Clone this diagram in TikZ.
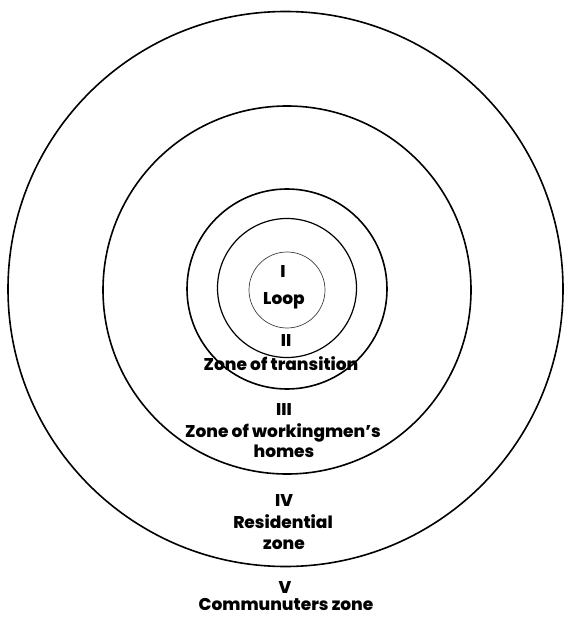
\documentclass[tikz,border=0pt]{standalone}
\usepackage{fontspec}
\setmainfont{Poppins}[BoldFont={Poppins ExtraBold}]

\begin{document}
\begin{tikzpicture}[
	x=1pt, y=-1pt,
	ring/.style      = {draw=black, line width=1.6pt},
	midring/.style   = {draw=black, line width=1.2pt},
	thinring/.style  = {draw=black!75, line width=0.7pt},
	zonenum/.style   = {anchor=base, inner sep=0pt, font=\fontsize{17}{20}\selectfont\bfseries},
	zonename/.style  = {anchor=base, inner sep=0pt, font=\fontsize{17}{20}\selectfont\bfseries}
	]
	\useasboundingbox (0,0) rectangle (564,620);
	
	% ===================== Rings =====================
	\draw[ring]     (285.5,289) circle (277.5);
	\draw[ring]     (287,290)   circle (184);
	\draw[ring]     (287,289)   circle (100);
	\draw[midring]  (287,288)   circle (69.5);
	\draw[thinring] (287,290)   circle (38);
	
	% ===================== Zone I =====================
	\node[zonenum]  (n1) at (283,277.5) {I};
	\node[zonename] (l1) at (284,304)   {Loop};
	
	% ===================== Zone II =====================
	\node[zonenum]  (n2) at (286,346.5) {II};
	\node[zonename] (l2) at (281,370.5) {Zone of transition};
	
	% ===================== Zone III =====================
	\node[zonenum]  (n3)  at (284,415)   {III};
	\node[zonename] (l3a) at (283,437)   {Zone of workingmen’s};
	\node[zonename] (l3b) at (284,457)   {homes};
	
	% ===================== Zone IV =====================
	\node[zonenum]  (n4)  at (284,506)   {IV};
	\node[zonename] (l4a) at (283,528.5) {Residential};
	\node[zonename] (l4b) at (284,549)   {zone};
	
	% ===================== Zone V =====================
	\node[zonenum]  (n5) at (285,593)   {V};
	\node[zonename] (l5) at (286,610.5) {Communuters zone};
	
\end{tikzpicture}
\end{document}
